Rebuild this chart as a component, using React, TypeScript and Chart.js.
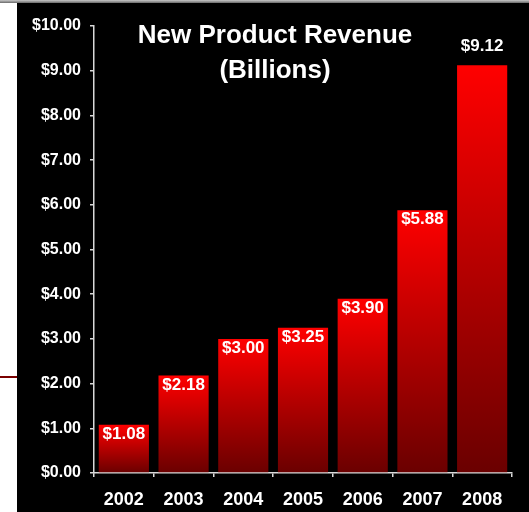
import React, { useEffect, useRef } from "react";
import { Chart, registerables } from "chart.js";

Chart.register(...registerables);

const categories = ["2002", "2003", "2004", "2005", "2006", "2007", "2008"];
const revenue = [1.08, 2.18, 3.0, 3.25, 3.9, 5.88, 9.12];
const titleLines = ["New Product Revenue", "(Billions)"];
const yMin = 0;
const yMax = 10;
const yStep = 1;

const FONT = '"Liberation Sans", Arial, sans-serif';

const fmt = (v: number) => "$" + v.toFixed(2);

const overlayPlugin = {
  id: "overlay",
  afterDatasetsDraw(chart: any) {
    const ctx = chart.ctx;
    const meta = chart.getDatasetMeta(0);
    ctx.save();
    ctx.fillStyle = "#ffffff";
    ctx.font = `bold 17px ${FONT}`;
    ctx.textAlign = "center";
    ctx.textBaseline = "alphabetic";
    meta.data.forEach((bar: any, i: number) => {
      const v = revenue[i];
      const last = i === revenue.length - 1;
      const y = last ? bar.y - 14 : bar.y + 14;
      ctx.fillText(fmt(v), bar.x, y);
    });
    ctx.font = `bold 26px ${FONT}`;
    ctx.fillText(titleLines[0], 258, 40);
    ctx.fillText(titleLines[1], 258, 75);
    ctx.restore();
  },
};

export default function App() {
  const ref = useRef<HTMLCanvasElement | null>(null);

  useEffect(() => {
    if (!ref.current) return;
    const chart = new Chart(ref.current, {
      type: "bar",
      data: {
        labels: categories,
        datasets: [
          {
            data: revenue,
            barPercentage: 0.84,
            categoryPercentage: 1,
            borderWidth: 0,
            backgroundColor: (c: any) => {
              const ch = c.chart;
              if (!ch.chartArea || c.type !== "data") return "#c00000";
              const ys = ch.scales.y;
              const top = ys.getPixelForValue(c.raw);
              const base = ys.getPixelForValue(0);
              const g = ch.ctx.createLinearGradient(0, top, 0, base);
              g.addColorStop(0, "#ff0000");
              g.addColorStop(1, "#6a0000");
              return g;
            },
          },
        ],
      },
      options: {
        animation: false,
        responsive: false,
        maintainAspectRatio: false,
        layout: { padding: { left: 0, top: 23, right: 17, bottom: 0 } },
        plugins: {
          legend: { display: false },
          tooltip: { enabled: false },
          title: { display: false },
        },
        scales: {
          x: {
            grid: {
              drawOnChartArea: false,
              drawTicks: true,
              tickLength: 4,
              color: "#d9d9d9",
              lineWidth: 1.5,
            },
            border: { display: true, color: "#d9d9d9", width: 1.5 },
            ticks: {
              color: "#ffffff",
              font: { family: FONT, size: 18, weight: "bold" },
              padding: 12,
              maxRotation: 0,
            },
            afterFit: (s: any) => {
              s.height = 39;
            },
          },
          y: {
            min: yMin,
            max: yMax,
            grid: {
              drawOnChartArea: false,
              drawTicks: true,
              tickLength: 4,
              color: "#d9d9d9",
              lineWidth: 1.5,
            },
            border: { display: true, color: "#d9d9d9", width: 1.5 },
            ticks: {
              stepSize: yStep,
              color: "#ffffff",
              font: { family: FONT, size: 16, weight: "bold" },
              padding: 9,
              callback: (v: any) => fmt(Number(v)),
            },
            afterFit: (s: any) => {
              s.width = 77;
            },
          },
        },
      },
      plugins: [overlayPlugin],
    } as any);
    return () => chart.destroy();
  }, []);

  return (
    <div
      style={{
        position: "absolute",
        left: 0,
        top: 0,
        width: 529,
        height: 512,
        background: "#ffffff",
        overflow: "hidden",
      }}
    >
      <div
        style={{
          position: "absolute",
          left: 0,
          top: 0,
          width: 529,
          height: 3,
          background: "linear-gradient(#c8c8c8, #6a6a6a)",
        }}
      />
      <div
        style={{
          position: "absolute",
          left: 0,
          top: 376,
          width: 17,
          height: 2,
          background: "#7a0000",
        }}
      />
      <canvas
        ref={ref}
        width={512}
        height={509}
        style={{
          position: "absolute",
          left: 17,
          top: 3,
          width: 512,
          height: 509,
          background: "#000000",
        }}
      />
    </div>
  );
}
